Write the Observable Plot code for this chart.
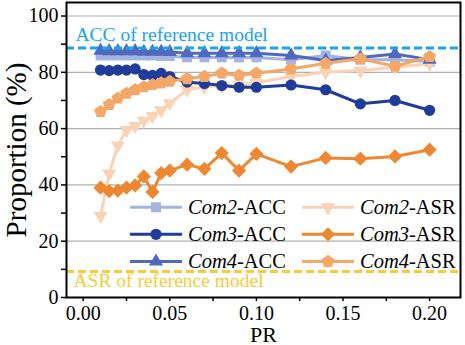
<!DOCTYPE html>
<html><head><meta charset="utf-8">
<script src="https://cdn.jsdelivr.net/npm/d3@7"></script>
<script src="https://cdn.jsdelivr.net/npm/@observablehq/plot@0.6"></script>
<style>body{margin:0;background:#fff} #chart{width:465px;height:345px}
#chart svg, #chart svg text {font-family: "Liberation Serif", "Times New Roman", "DejaVu Serif", serif !important;}</style>
</head><body><div id="chart"></div>
<script>
// ---- data ----
const prValues = [0.01,0.015,0.02,0.025,0.03,0.035,0.04,0.045,0.05,0.06,0.07,0.08,0.09,0.10,0.12,0.14,0.16,0.18,0.20];
const com2Acc = [86.0,86.0,86.0,86.0,86.0,86.0,86.0,85.8,85.8,85.3,85.3,85.3,85.3,85.3,84.5,86.0,84.5,84.5,83.8];
const com3Acc = [80.8,80.6,80.8,80.8,81.2,79.2,78.9,79.6,78.5,76.5,76.0,75.3,74.7,74.7,75.5,73.8,68.8,70.0,66.5];
const com4Acc = [87.7,87.5,87.5,87.5,87.5,87.3,87.3,87.3,87.2,86.8,86.8,86.8,86.8,86.8,86.0,84.2,85.3,86.5,84.5];
const com2Asr = [29.0,44.0,54.0,59.5,61.0,62.8,64.5,66.5,69.0,73.8,74.8,75.3,75.3,76.3,78.5,80.0,80.6,81.8,83.0];
const com3Asr = [39.0,37.8,38.0,39.0,39.8,43.0,37.5,44.2,45.1,47.2,45.7,51.3,45.1,51.0,46.5,49.6,49.3,50.1,52.5];
const com4Asr = [66.0,68.5,70.8,72.5,73.8,74.8,75.6,76.2,76.8,77.7,78.5,79.7,78.9,79.7,81.2,83.2,84.8,82.1,85.6];
const seriesNames = ["Com2-ACC","Com2-ASR","Com3-ACC","Com3-ASR","Com4-ACC","Com4-ASR"];
const seriesValues = [com2Acc, com2Asr, com3Acc, com3Asr, com4Acc, com4Asr];
const accRefValue = 88.6;
const asrRefValue = 9.2;
const accRefLabel = "ACC of reference model";
const asrRefLabel = "ASR of reference model";
const yMajorTicks = [0,20,40,60,80,100];
const yMinorTicks = [10,30,50,70,90];
const xMajorTicks = [0,0.05,0.10,0.15,0.20];
const xMinorTicks = [0.025,0.075,0.125,0.175];
const legendOrder = ["Com2-ACC","Com2-ASR","Com3-ACC","Com3-ASR","Com4-ACC","Com4-ASR"];

// ---- custom symbols ----
const sqrt3 = Math.sqrt(3);
const symbolTriangleDown = {draw(ctx, size){const y=-Math.sqrt(size/(sqrt3*3));ctx.moveTo(0,-y*2);ctx.lineTo(-sqrt3*y,y);ctx.lineTo(sqrt3*y,y);ctx.closePath();}};
const symbolPentagon = {draw(ctx, size){const R=Math.sqrt(size/(2.5*Math.sin(2*Math.PI/5)));for(let k=0;k<5;k++){const a=-Math.PI/2+k*2*Math.PI/5;const px=R*Math.cos(a),py=R*Math.sin(a);k?ctx.lineTo(px,py):ctx.moveTo(px,py);}ctx.closePath();}};

const styles = {
  "Com2-ACC": {color:"#A3B4E2", symbol:d3.symbolSquare, r:5.6},
  "Com2-ASR": {color:"#FAD3B4", symbol:symbolTriangleDown, r:5.2},
  "Com3-ACC": {color:"#1F3C9A", symbol:d3.symbolCircle, r:5.6},
  "Com3-ASR": {color:"#EF8730", symbol:d3.symbolDiamond2, r:6.4},
  "Com4-ACC": {color:"#5069BE", symbol:d3.symbolTriangle, r:5.2},
  "Com4-ASR": {color:"#F4A766", symbol:symbolPentagon, r:5.8}
};
const accColor = "#1AA3F4", asrColor = "#F7CB3A";

const tidy = seriesNames.map((name, i) => prValues.map((x, j) => ({name, x, y: seriesValues[i][j]})));

const W = 465, H = 345, mL = 66, mR = 5, mT = 2, mB = 48;
const font = "'Liberation Serif', 'Times New Roman', 'DejaVu Serif', serif";

const seriesMarks = [];
seriesNames.forEach((name, i) => {
  const s = styles[name];
  seriesMarks.push(Plot.line(tidy[i], {x:"x", y:"y", stroke:s.color, strokeWidth:3}));
  seriesMarks.push(Plot.dot(tidy[i], {x:"x", y:"y", fill:s.color, symbol:s.symbol, r:s.r, stroke:"none"}));
});

const svg = Plot.plot({
  width: W, height: H,
  marginLeft: mL, marginRight: mR, marginTop: mT, marginBottom: mB,
  style: {fontFamily: font, fontSize: "20px", color: "#000", background: "#fff"},
  x: {domain: [-0.00964, 0.21783]},
  y: {domain: [0, 104.8]},
  marks: [
    Plot.gridY(yMajorTicks, {stroke:"#b0b0b0", strokeOpacity:1, strokeWidth:1.2}),
    ...seriesMarks,
    Plot.ruleY([accRefValue], {stroke:accColor, strokeWidth:3, strokeDasharray:"8,4"}),
    Plot.ruleY([asrRefValue], {stroke:asrColor, strokeWidth:3, strokeDasharray:"8,4"}),
    Plot.text([{y:accRefValue, t:accRefLabel}], {y:"y", text:"t", frameAnchor:"left", textAnchor:"start", lineAnchor:"middle", dx:9, dy:-13.7, fill:accColor, fontSize:19.5}),
    Plot.text([{y:asrRefValue, t:asrRefLabel}], {y:"y", text:"t", frameAnchor:"left", textAnchor:"start", lineAnchor:"middle", dx:7, dy:9, fill:asrColor, fontSize:19.5}),
    Plot.axisY({ticks:yMajorTicks, tickSize:5, tickPadding:3, strokeWidth:1.5, label:null, fontSize:20}),
    Plot.axisY({ticks:yMinorTicks, tickSize:5, tickFormat:() => "", strokeWidth:1.5, label:null}),
    Plot.axisX({ticks:xMajorTicks, tickSize:4, tickPadding:4, tickFormat:d3.format(".2f"), strokeWidth:1.5, label:null, fontSize:20}),
    Plot.axisX({ticks:xMinorTicks, tickSize:4, tickFormat:() => "", strokeWidth:1.5, label:null}),
    Plot.text(["Proportion (%)"], {frameAnchor:"left", textAnchor:"middle", lineAnchor:"middle", rotate:-90, dx:-50, fontSize:29, fill:"#000"}),
    Plot.text(["PR"], {frameAnchor:"bottom", textAnchor:"middle", lineAnchor:"middle", dy:37, fontSize:22, fill:"#000"}),
    Plot.frame({stroke:"#000", strokeWidth:2})
  ]
});

// ---- legend (inside plot, two columns, three rows) ----
const lg = d3.select(svg).append("g").attr("font-family", font).attr("font-size", 20.5).attr("text-anchor", "start");
const colX = [mL + 64, mL + 236];
const rowY = [207.3, 234.3, 261.5];
legendOrder.forEach((name, i) => {
  const s = styles[name];
  const col = i % 2, row = Math.floor(i / 2);
  const x0 = colX[col], y0 = rowY[row];
  const g = lg.append("g").attr("transform", `translate(${x0},${y0})`);
  g.append("line").attr("x1", 0).attr("x2", 52).attr("y1", 0).attr("y2", 0).attr("stroke", s.color).attr("stroke-width", 3);
  g.append("path").attr("transform", "translate(26,0)").attr("d", d3.symbol(s.symbol, Math.PI * s.r * s.r)()).attr("fill", s.color);
  const [com, metric] = name.split("-");
  const t = g.append("text").attr("x", 58).attr("y", 6.5).attr("fill", "#000").attr("text-anchor", "start");
  t.append("tspan").attr("font-style", "italic").text(com);
  t.append("tspan").text("-" + metric);
});

document.getElementById("chart").appendChild(svg);
</script>
</body></html>
